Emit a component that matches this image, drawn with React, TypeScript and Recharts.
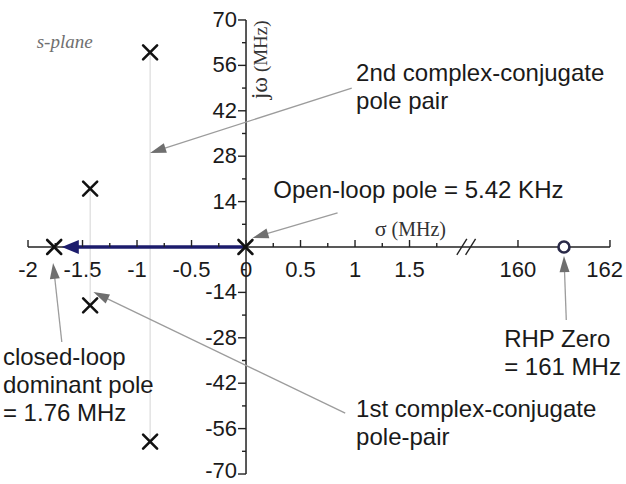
import React from 'react';
import { ScatterChart, Scatter, XAxis, YAxis, ReferenceLine, ReferenceDot } from 'recharts';

// sigma axis is linear near the origin, then broken and compressed for 160..162 MHz
const BREAK_BASE = 2.495;
const FAR_SCALE = 0.422;
const sx = (v: number) => (v >= 100 ? BREAK_BASE + (v - 160) * FAR_SCALE : v);

const sigmaMajor = [-2, -1.5, -1, -0.5, 0, 0.5, 1, 1.5, 160, 162];
const sigmaMinor = [-1.75, -1.25, -0.75, -0.25, 0.25, 0.75, 1.25, 1.75];
const omegaMajor = [70, 56, 42, 28, 14, -14, -28, -42, -56, -70];
const omegaMinor = [63, 49, 35, 21, 7, -7, -21, -35, -49, -63];
const breakMarks = [1.98, 2.06];

// poles and zero, sigma / j-omega in MHz
const poleRe = [-0.00542, -1.76, -1.43, -1.43, -0.88, -0.88];
const poleIm = [0, 0, 18, -18, 60, -60];
const zeroRe = [161];
const zeroIm = [0];

// root-locus travel of the dominant pole
const locusFrom = [0, 0];
const locusTo = [-1.69, 0];

// callouts: text lines, text anchor, arrow start and arrow tip (sigma, j-omega)
const noteText = [
  ['2nd complex-conjugate', 'pole pair'],
  ['Open-loop pole = 5.42 KHz'],
  ['closed-loop', 'dominant pole', '= 1.76 MHz'],
  ['1st complex-conjugate', 'pole-pair'],
  ['RHP Zero', '= 161 MHz'],
];
const noteAt = [[1.01, 51.3], [0.25, 15.1], [-2.23, -36.4], [1.01, -52.4], [159.7, -30.8]];
const arrowFrom = [[0.97, 49], [0.84, 10.5], [-1.69, -29.3], [0.91, -51.2], [161.05, -22.5]];
const arrowTo = [[-0.88, 29], [0.06, 2.8], [-1.77, -4.9], [-1.4, -13.9], [161, -2.8]];

const SANS = '"Liberation Sans", Arial, Helvetica, sans-serif';
const SERIF = '"Liberation Serif", "Times New Roman", serif';
const INK = '#1a1a1a';

const poles = poleRe.map((re, i) => ({ x: sx(re), y: poleIm[i] }));
const zeros = zeroRe.map((re, i) => ({ x: sx(re), y: zeroIm[i] }));

const lastSigma = sigmaMajor[sigmaMajor.length - 1];
const lowestOmega = Math.min(...omegaMajor);
const sigmaTicks = [
  ...sigmaMajor.map((v) => ({ x: sx(v), y: 0, label: String(v), major: true, edge: v === lastSigma })),
  ...sigmaMinor.map((v) => ({ x: sx(v), y: 0, label: '', major: false, edge: false })),
];
const omegaTicks = [
  ...omegaMajor.map((v) => ({ x: 0, y: v, label: String(v), major: true, edge: v === lowestOmega })),
  ...omegaMinor.map((v) => ({ x: 0, y: v, label: '', major: false, edge: false })),
];

const arrowShape = (color: string, head: string, width: number, len: number, half: number) => (p: any) => {
  const { x1, y1, x2, y2 } = p;
  const dx = x2 - x1;
  const dy = y2 - y1;
  const d = Math.sqrt(dx * dx + dy * dy) || 1;
  const ux = dx / d;
  const uy = dy / d;
  const bx = x2 - ux * len;
  const by = y2 - uy * len;
  const pts = `${x2},${y2} ${bx - uy * half},${by + ux * half} ${bx + uy * half},${by - ux * half}`;
  return (
    <g>
      <line x1={x1} y1={y1} x2={bx + ux * 2} y2={by + uy * 2} stroke={color} strokeWidth={width} />
      <polygon points={pts} fill={head} />
    </g>
  );
};

const Cross = (p: any) => {
  const { cx, cy } = p;
  const s = 7;
  return (
    <g stroke="#111" strokeWidth={2.6} strokeLinecap="round">
      <line x1={cx - s} y1={cy - s} x2={cx + s} y2={cy + s} />
      <line x1={cx - s} y1={cy + s} x2={cx + s} y2={cy - s} />
    </g>
  );
};

const Ring = (p: any) => (
  <circle cx={p.cx} cy={p.cy} r={5.5} fill="#fff" stroke="#2a2a48" strokeWidth={2.6} />
);

const SigmaTick = (p: any) => {
  const { cx, cy, payload } = p;
  return (
    <g>
      <line x1={cx} x2={cx} y1={cy} y2={cy - (payload.major ? 7 : 4)} stroke="#222" strokeWidth={1.4} />
      {payload.label && (
        <text
          x={payload.edge ? cx + 13 : cx}
          y={cy + 30}
          textAnchor={payload.edge ? 'end' : 'middle'}
          fontFamily={SANS}
          fontSize={22}
          fill={INK}
        >
          {payload.label}
        </text>
      )}
    </g>
  );
};

const OmegaTick = (p: any) => {
  const { cx, cy, payload } = p;
  return (
    <g>
      <line x1={cx} x2={cx - (payload.major ? 8 : 4)} y1={cy} y2={cy} stroke="#222" strokeWidth={1.4} />
      {payload.label && (
        <text x={cx - 9} y={cy + (payload.edge ? 4 : 7)} textAnchor="end" fontFamily={SANS} fontSize={22} fill={INK}>
          {payload.label}
        </text>
      )}
    </g>
  );
};

const BreakMark = (p: any) => (
  <line x1={p.cx - 5} y1={p.cy + 8} x2={p.cx + 5} y2={p.cy - 8} stroke="#222" strokeWidth={1.4} />
);

const noteShape = (lines: string[]) => (p: any) => (
  <text x={p.cx} y={p.cy} fontFamily={SANS} fontSize={24} fill={INK}>
    {lines.map((t, i) => (
      <tspan key={i} x={p.cx} dy={i === 0 ? 0 : 28}>
        {t}
      </tspan>
    ))}
  </text>
);

const grayArrow = arrowShape('#9c9c9c', '#6f6f6f', 1.3, 16, 5);
const locusArrow = arrowShape('#1c1c6c', '#1c1c6c', 3.4, 17, 7);

const App: React.FC = () => (
  <div style={{ position: 'absolute', left: 0, top: 0, background: '#fff' }}>
    <ScatterChart width={626} height={484} margin={{ top: 0, right: 0, bottom: 0, left: 0 }}>
      <XAxis type="number" dataKey="x" domain={[-2.257, 3.486]} allowDataOverflow hide />
      <YAxis type="number" dataKey="y" domain={[-73.08, 76.16]} allowDataOverflow hide />

      {/* guide lines joining each conjugate pair */}
      <ReferenceLine segment={[{ x: sx(poleRe[4]), y: poleIm[4] }, { x: sx(poleRe[5]), y: poleIm[5] }]} stroke="#d4d4d4" strokeWidth={1} />
      <ReferenceLine segment={[{ x: sx(poleRe[2]), y: poleIm[2] }, { x: sx(poleRe[3]), y: poleIm[3] }]} stroke="#d4d4d4" strokeWidth={1} />

      {/* axes */}
      <ReferenceLine segment={[{ x: sx(-2), y: 0 }, { x: sx(162), y: 0 }]} stroke="#222" strokeWidth={1.5} />
      <ReferenceLine segment={[{ x: 0, y: -70 }, { x: 0, y: 70 }]} stroke="#222" strokeWidth={1.5} />
      {breakMarks.map((b) => (
        <ReferenceDot key={b} x={b} y={0} r={0} shape={BreakMark} />
      ))}
      <Scatter data={sigmaTicks} shape={SigmaTick} isAnimationActive={false} />
      <Scatter data={omegaTicks} shape={OmegaTick} isAnimationActive={false} />

      <ReferenceDot
        x={1.18}
        y={3.4}
        r={0}
        shape={(p: any) => (
          <text x={p.cx} y={p.cy} fontFamily={SERIF} fill="#333">
            <tspan fontSize={22}>σ</tspan>
            <tspan fontSize={20}> (MHz)</tspan>
          </text>
        )}
      />
      <ReferenceDot
        x={0.19}
        y={57.7}
        r={0}
        shape={(p: any) => (
          <text x={p.cx} y={p.cy} transform={`rotate(-90 ${p.cx} ${p.cy})`} textAnchor="middle" fontFamily={SERIF} fill="#333">
            <tspan fontSize={24}>jω</tspan>
            <tspan fontSize={19}> (MHz)</tspan>
          </text>
        )}
      />
      <ReferenceDot
        x={-1.92}
        y={61.4}
        r={0}
        shape={(p: any) => (
          <text x={p.cx} y={p.cy} fontFamily={SERIF} fontStyle="italic" fontSize={19} fill="#707070">
            s-plane
          </text>
        )}
      />

      <ReferenceLine
        segment={[{ x: sx(locusFrom[0]), y: locusFrom[1] }, { x: sx(locusTo[0]), y: locusTo[1] }]}
        shape={locusArrow}
      />

      {noteText.map((lines, i) => (
        <ReferenceLine
          key={`a${i}`}
          segment={[
            { x: sx(arrowFrom[i][0]), y: arrowFrom[i][1] },
            { x: sx(arrowTo[i][0]), y: arrowTo[i][1] },
          ]}
          shape={grayArrow}
        />
      ))}
      {noteText.map((lines, i) => (
        <ReferenceDot key={`n${i}`} x={sx(noteAt[i][0])} y={noteAt[i][1]} r={0} shape={noteShape(lines)} />
      ))}

      <Scatter data={poles} shape={Cross} isAnimationActive={false} />
      <Scatter data={zeros} shape={Ring} isAnimationActive={false} />
    </ScatterChart>
  </div>
);

export default App;
